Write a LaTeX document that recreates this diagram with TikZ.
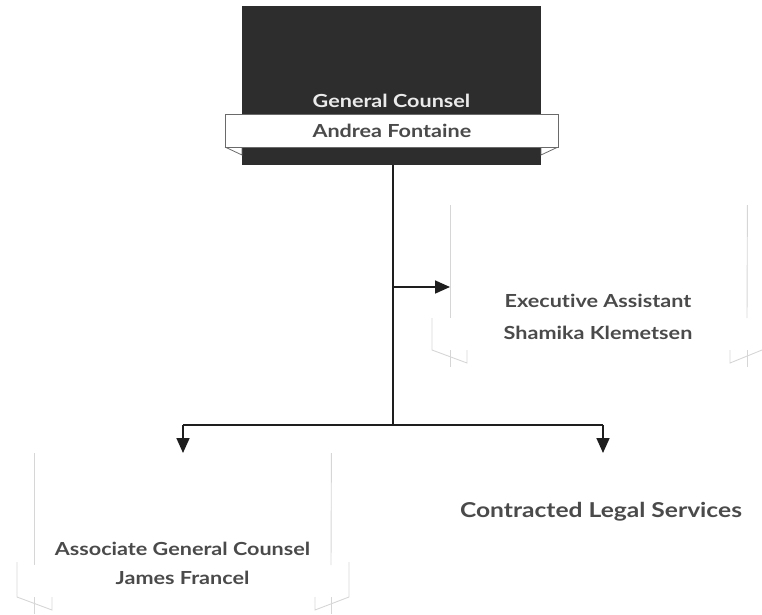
\documentclass[tikz,border=0pt]{standalone}
\usepackage{fontspec}
\setmainfont{Lato}[FakeStretch=1.2,Ligatures={NoCommon,NoRare,NoDiscretionary}]
\usetikzlibrary{arrows.meta}
\definecolor{boxdark}{HTML}{2D2D2D}
\definecolor{inkgray}{HTML}{4A4A4A}
\definecolor{faint}{HTML}{D6D6D6}
\definecolor{wire}{HTML}{1E1E1E}
\definecolor{ribbonedge}{HTML}{6A6A6A}
\begin{document}
\begin{tikzpicture}[x=1pt,y=-1pt,
  wire/.style={draw=wire,line width=1.7pt},
  headdown/.style={-{Triangle[width=13pt,length=15pt]}},
  faintline/.style={draw=faint,line width=0.9pt},
  label/.style={font=\fontsize{18}{21}\selectfont\bfseries,text=inkgray,inner sep=0pt},
  blankbox/.style={inner sep=0pt,minimum width=297pt,minimum height=160pt,anchor=north west}]
\useasboundingbox (0,0) rectangle (762,614);

% --- General Counsel card ---
\node[fill=boxdark,inner sep=0pt,minimum width=299pt,minimum height=159pt,anchor=north west] (gc) at (242,6) {};
\draw[ribbonedge,line width=0.8pt] (225,147) -- (242,155) -- (242,147);
\draw[ribbonedge,line width=0.8pt] (558,147) -- (541,155) -- (541,147);
\node[fill=white,draw=ribbonedge,line width=0.8pt,inner sep=0pt,minimum width=333pt,minimum height=33pt,anchor=north west] (gcrib) at (225,114) {};
\node[label,text=white!92!black] (gctitle) at (391.5,101) {General Counsel};
\node[label] (gcname) at (gcrib.center) {Andrea Fontaine};

% --- Executive Assistant card (outline only) ---
\node[blankbox] (ea) at (450,205) {};
\draw[faintline] (ea.north west) -- (450,318);
\draw[faintline] (ea.north east) -- (747,318);
\draw[faintline] (432,318) -- (432,350) -- (467,363) -- (467,350);
\draw[faintline] (450,350) -- (450,367);
\draw[faintline] (762,350) -- (730,363) -- (730,350);
\draw[faintline] (747,350) -- (747,367);
\node[label] (eatitle) at (598,301) {Executive Assistant};
\node[label] (eaname) at (598,333) {Shamika Klemetsen};

% --- Associate General Counsel card (outline only) ---
\node[blankbox] (agc) at (34,453) {};
\draw[faintline] (agc.north west) -- (34,565);
\draw[faintline] (agc.north east) -- (331,565);
\draw[faintline] (17,562) -- (17,597) -- (52,610) -- (52,597);
\draw[faintline] (34,597) -- (34,614);
\draw[faintline] (349,562) -- (349,597) -- (315,610) -- (315,597);
\draw[faintline] (331,597) -- (331,614);
\node[label] (agctitle) at (182.5,549) {Associate General Counsel};
\node[label] (agcname) at (182.5,578) {James Francel};

% --- Contracted Legal Services ---
\node[label,font=\fontsize{20.5}{24}\selectfont\bfseries] (cls) at (601,512) {Contracted Legal Services};

% --- connectors ---
\coordinate (trunk) at (393,425);
\coordinate (tap) at (393,287);
\coordinate (left) at (183,425);
\coordinate (right) at (603,425);
\draw[wire] (gc.south -| trunk) -- (trunk);
\draw[wire] (left) -- (right);
\draw[wire,headdown] (tap) -- (ea.west |- tap);
\draw[wire,headdown] (left) -- (left |- agc.north);
\draw[wire,headdown] (right) -- (603,453);
\end{tikzpicture}
\end{document}
